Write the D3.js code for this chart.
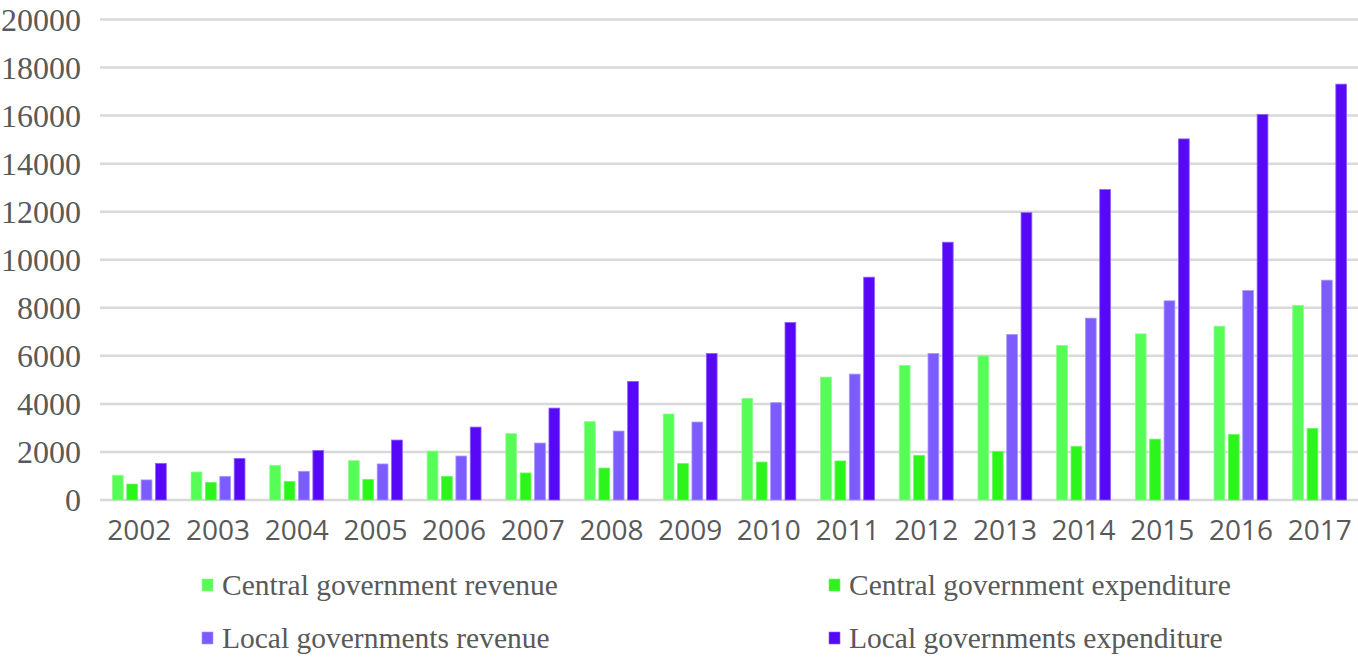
<!DOCTYPE html>
<html><head><meta charset="utf-8">
<script src="https://cdn.jsdelivr.net/npm/d3@7"></script>
<style>html,body{margin:0;padding:0;background:#fff;}</style>
</head><body>
<svg id="c" width="1358" height="658"></svg>
<script>
const years = ["2002","2003","2004","2005","2006","2007","2008","2009","2010","2011","2012","2013","2014","2015","2016","2017"];
const seriesNames = ["Central government revenue","Central government expenditure","Local governments revenue","Local governments expenditure"];
const centralRevenue = [1030,1165,1440,1635,2035,2760,3260,3580,4230,5115,5600,6000,6430,6915,7235,8095];
const centralExpenditure = [665,735,775,860,985,1125,1330,1515,1580,1625,1860,2025,2235,2535,2730,2980];
const localRevenue = [835,985,1195,1500,1830,2370,2870,3245,4050,5240,6100,6890,7570,8290,8720,9150];
const localExpenditure = [1525,1730,2065,2495,3035,3825,4935,6100,7390,9275,10730,11960,12920,15030,16050,17310];
const yTicks = [0,2000,4000,6000,8000,10000,12000,14000,16000,18000,20000];
const colors = ["#57FD57","#2CF51C","#7C5CFF","#5708F7"];
const strokes = ["#8dfb8d","#6df865","#a697ff","#8a63fa"];

const seriesVals = [centralRevenue, centralExpenditure, localRevenue, localExpenditure];
const svg = d3.select("#c");
const x0 = d3.scaleBand().domain(years).range([100, 1359]).paddingInner(0).paddingOuter(0);
const x1 = d3.scaleBand().domain(d3.range(4)).range([12.4, x0.bandwidth()-12.4]).paddingInner(0.25).paddingOuter(0);
const y = d3.scaleLinear().domain([0,20000]).range([500, 19.5]);

// gridlines
svg.append("g").selectAll("line").data(yTicks).join("line")
  .attr("x1",100).attr("x2",1358)
  .attr("y1",d=>y(d)).attr("y2",d=>y(d))
  .attr("stroke","#d9d9d9").attr("stroke-width",2.5);

// y labels
svg.append("g").selectAll("text").data(yTicks).join("text")
  .attr("x",81).attr("y",d=>y(d)).attr("dy","0.35em")
  .attr("text-anchor","end")
  .attr("font-family","'Liberation Serif', 'Times New Roman', serif")
  .attr("font-size",32).attr("fill","#595959")
  .text(d=>d);

// bars
const groups = svg.append("g").selectAll("g").data(years).join("g")
  .attr("transform",d=>`translate(${x0(d)},0)`);
groups.selectAll("rect").data((d,i)=>seriesVals.map((s,k)=>({k, v:s[i]}))).join("rect")
  .attr("x",d=>x1(d.k)).attr("width",x1.bandwidth())
  .attr("y",d=>y(d.v)).attr("height",d=>y(0)-y(d.v))
  .attr("fill",d=>colors[d.k]).attr("stroke",d=>strokes[d.k]).attr("stroke-width",0.8);

// x labels
svg.append("g").selectAll("text").data(years).join("text")
  .attr("x",d=>x0(d)+x0.bandwidth()/2).attr("y",540)
  .attr("text-anchor","middle")
  .attr("font-family","'Open Sans', sans-serif")
  .attr("font-size",28).attr("fill","#595959")
  .text(d=>d);

// legend
const legPos = [[202,585],[829,585],[202,638],[829,638]];
const leg = svg.append("g").selectAll("g").data(seriesNames).join("g")
  .attr("transform",(d,i)=>`translate(${legPos[i][0]},${legPos[i][1]})`);
leg.append("rect").attr("x",0).attr("y",-6).attr("width",11).attr("height",12)
  .attr("fill",(d,i)=>colors[i]).attr("stroke",(d,i)=>strokes[i]).attr("stroke-width",0.6);
leg.append("text").attr("x",20).attr("y",0).attr("dy","0.35em")
  .attr("font-family","'Liberation Serif', 'Times New Roman', serif")
  .attr("font-size",29.5).attr("fill","#595959")
  .text(d=>d);
</script>
</body></html>
